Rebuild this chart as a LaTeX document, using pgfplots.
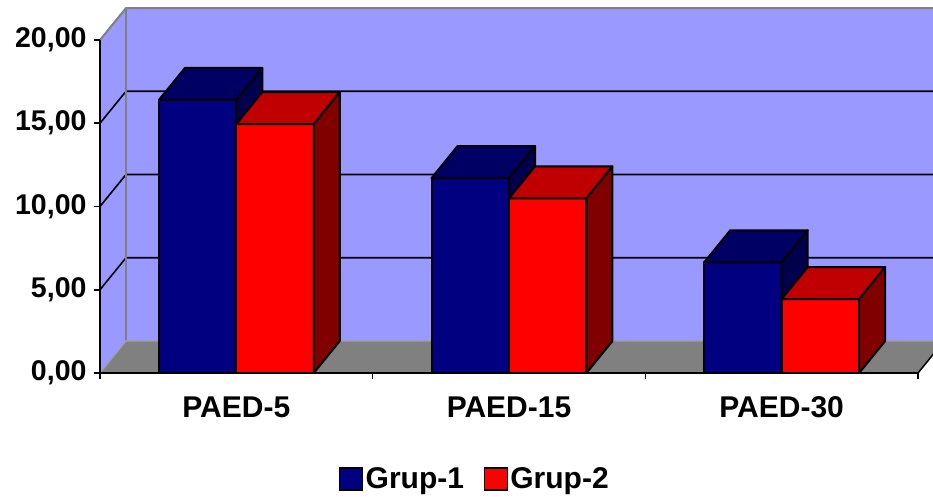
\documentclass[border=0pt]{standalone}
\usepackage{pgfplots}
\usepackage{pgfplotstable}
\pgfplotsset{compat=1.18}
\usepackage{fontspec}
\setmainfont{Liberation Sans}

\definecolor{wall}{RGB}{153,153,255}
\definecolor{floorgray}{RGB}{128,128,128}
\definecolor{gAfront}{RGB}{0,0,128}
\definecolor{gAtop}{RGB}{0,0,100}
\definecolor{gAside}{RGB}{0,0,76}
\definecolor{gBfront}{RGB}{255,0,0}
\definecolor{gBtop}{RGB}{192,0,0}
\definecolor{gBside}{RGB}{128,0,0}

% mean scores per category
\pgfplotstableread{
pos g1    g2
0   16.40 14.95
1   11.71 10.49
2   6.65  4.44
}\bardata

% bar width and oblique depth offset (x in category units, y in value units)
\newcommand\barw{0.284}
\newcommand\depthx{0.0954}
\newcommand\depthy{1.92}

% one 3D column: left x, right x, value, colour prefix
\newcommand\drawbar[4]{%
  \pgfmathsetmacro\xl{#1}\pgfmathsetmacro\xr{#2}\pgfmathsetmacro\vt{#3}%
  \pgfmathsetmacro\xlb{\xl+\depthx}\pgfmathsetmacro\xrb{\xr+\depthx}%
  \pgfmathsetmacro\vtb{\vt+\depthy}%
  \edef\cmd{%
    \noexpand\addplot[forget plot, fill=#4front, draw=black, line width=2pt, line join=round]
      coordinates {(\xl,0) (\xr,0) (\xr,\vt) (\xl,\vt)} -- cycle;
    \noexpand\addplot[forget plot, fill=#4top, draw=black, line width=2pt, line join=round]
      coordinates {(\xl,\vt) (\xr,\vt) (\xrb,\vtb) (\xlb,\vtb)} -- cycle;
    \noexpand\addplot[forget plot, fill=#4side, draw=black, line width=2pt, line join=round]
      coordinates {(\xr,0) (\xrb,\depthy) (\xrb,\vtb) (\xr,\vt)} -- cycle;
  }\cmd}

\begin{document}
\begin{tikzpicture}
\path[use as bounding box] (-100pt,-124pt) rectangle (833pt,373pt);
\begin{axis}[
  at={(0pt,0pt)}, anchor=south west,
  x=272.67pt, y=16.65pt,
  xmin=-0.5, xmax=2.5, ymin=0, ymax=20,
  clip=false, axis on top,
  axis x line*=bottom, axis y line*=left,
  axis line style={line width=2pt, black},
  tick align=outside, major tick length=6pt,
  tick style={line width=1.6pt, black},
  xtick={-0.5,0.5,1.5,2.5}, xticklabels={},
  extra x ticks={0,1,2},
  extra x tick labels={PAED-5,PAED-15,PAED-30},
  extra x tick style={major tick length=0pt,
    xticklabel style={yshift=-20pt, font=\fontsize{30}{32}\selectfont\bfseries}},
  ytick={0,5,10,15,20},
  /pgf/number format/fixed,
  /pgf/number format/fixed zerofill,
  /pgf/number format/precision=2,
  /pgf/number format/use comma,
  /pgf/number format/assume math mode=true,
  tick label style={font=\fontsize{28.5}{30}\selectfont\bfseries},
  yticklabel style={xshift=-4pt},
  legend style={at={(axis description cs:0.4585,-0.318)}, anchor=center,
    draw=none, fill=none, legend columns=2,
    font=\fontsize{30}{32}\selectfont\bfseries,
    /tikz/every even column/.append style={column sep=17pt},
    nodes={inner sep=2.5pt}},
  legend image code/.code={\draw[#1, line width=1.3pt] (0pt,-11pt) rectangle (23pt,11pt);},
]
% side wall and back wall
\addplot[forget plot, fill=wall, draw=none]
  coordinates {(-0.5,0) (-0.5,20) (-0.4046,21.92) (-0.4046,1.92)} -- cycle;
\addplot[forget plot, fill=wall, draw=none]
  coordinates {(-0.4046,1.92) (-0.4046,21.92) (2.62,21.92) (2.62,1.92)} -- cycle;
% gridlines
\addplot[forget plot, black, line width=1.6pt] coordinates {(-0.5,5) (-0.4046,6.92) (2.62,6.92)};
\addplot[forget plot, black, line width=1.6pt] coordinates {(-0.5,10) (-0.4046,11.92) (2.62,11.92)};
\addplot[forget plot, black, line width=1.6pt] coordinates {(-0.5,15) (-0.4046,16.92) (2.62,16.92)};
% wall borders
\addplot[forget plot, gray, line width=2pt] coordinates {(-0.5,20) (-0.4046,21.92) (2.62,21.92)};
\addplot[forget plot, gray, line width=2pt] coordinates {(-0.4046,1.92) (-0.4046,21.92)};
% floor
\addplot[forget plot, fill=floorgray, draw=none]
  coordinates {(-0.5,0) (2.5,0) (2.5954,1.92) (-0.4046,1.92)} -- cycle;
\addplot[forget plot, gray!75, line width=1.2pt] coordinates {(-0.5,0) (-0.4046,1.92) (2.62,1.92)};
\addplot[forget plot, black, line width=1.5pt] coordinates {(2.5,0) (2.5954,1.92)};
% columns
\pgfplotsforeachungrouped \ri in {0,1,2}{%
  \pgfplotstablegetelem{\ri}{pos}\of\bardata \let\cx\pgfplotsretval
  \pgfplotstablegetelem{\ri}{g1}\of\bardata \let\va\pgfplotsretval
  \pgfplotstablegetelem{\ri}{g2}\of\bardata \let\vb\pgfplotsretval
  \drawbar{\cx-\barw}{\cx}{\va}{gA}%
  \drawbar{\cx}{\cx+\barw}{\vb}{gB}%
}
\addlegendimage{fill=gAfront, draw=black}
\addlegendentry{Grup-1}
\addlegendimage{fill=gBfront, draw=black}
\addlegendentry{Grup-2}
\end{axis}
\end{tikzpicture}
\end{document}
